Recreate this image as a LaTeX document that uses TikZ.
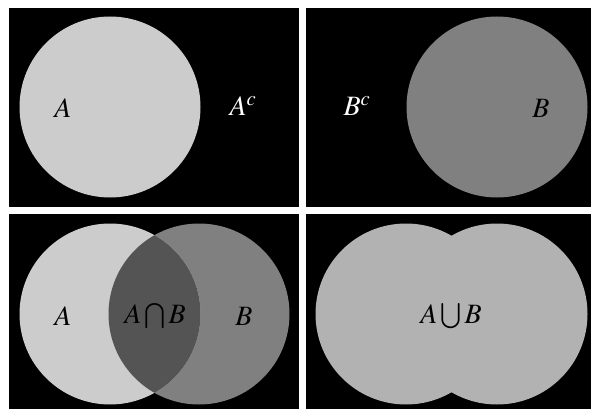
\documentclass[tikz,border=0pt]{standalone}
\usepackage{mathptmx}
\usetikzlibrary{positioning}
\definecolor{setA}{gray}{0.80}
\definecolor{setB}{gray}{0.50}
\definecolor{setAB}{gray}{0.33}
\definecolor{setU}{gray}{0.70}

\begin{document}
\begin{tikzpicture}[x=1pt, y=-1pt,
    setcirc/.style={circle, inner sep=0pt, minimum size=181pt},
    setlbl/.style={font=\fontsize{28}{30}\selectfont, inner sep=0pt}]
  \useasboundingbox[fill=white] (0,0) rectangle (591,409);
  % four black panels
  \foreach \xa/\ya/\xb/\yb in {9/8/299/207, 306/8/591/207, 9/214/299/409, 306/214/591/409}{
    \fill[black] (\xa,\ya) rectangle (\xb,\yb);
  }
  % top left: A and its complement
  \node[setcirc, fill=setA] (circA) at (110,107) {};
  \node[setlbl] (lblA) at (63,108) {$A$};
  \node[setlbl, text=white] (lblAc) at (243,106) {$A^c$};
  % top right: B and its complement
  \node[setcirc, fill=setB] (circB) at (497,107) {};
  \node[setlbl] (lblB) at (541,108) {$B$};
  \node[setlbl, text=white] (lblBc) at (357,106) {$B^c$};
  % bottom left: intersection
  \node[setcirc, fill=setB] (interB) at (199,314) {};
  \node[setcirc, fill=setA] (interA) at (110,314) {};
  \begin{scope}
    \clip (interA.center) circle (90.5pt);
    \fill[setAB] (interB.center) circle (90.5pt);
  \end{scope}
  \node[setlbl] (lblA2) at (63,316) {$A$};
  \node[setlbl] (lblAB) at (155,316) {$A\bigcap B$};
  \node[setlbl] (lblB2) at (244,316) {$B$};
  % bottom right: union
  \node[setcirc, fill=setU] (unionA) at (406,314) {};
  \node[setcirc, fill=setU] (unionB) at (497,314) {};
  \node[setlbl] (lblAuB) at (451,316) {$A\bigcup B$};
\end{tikzpicture}
\end{document}
